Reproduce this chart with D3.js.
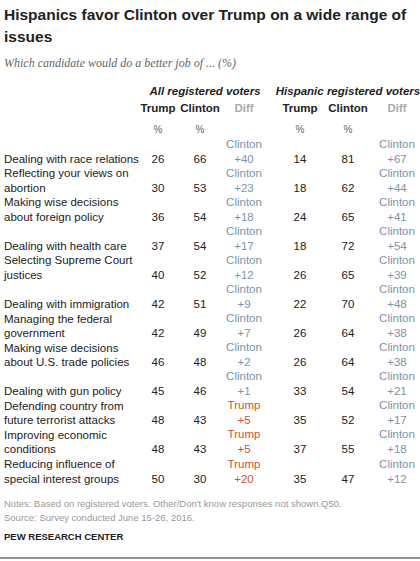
<!DOCTYPE html>
<html><head><meta charset="utf-8">
<script src="https://cdn.jsdelivr.net/npm/d3@7"></script>
<style>body{margin:0;background:#fff}svg{font-family:"Liberation Sans",Arial,sans-serif}</style>
</head><body><svg id="chart" width="420" height="561"></svg>
<script>
var issues=[["Dealing with race relations"],["Reflecting your views on","abortion"],["Making wise decisions","about foreign policy"],["Dealing with health care"],["Selecting Supreme Court","justices"],["Dealing with immigration"],["Managing the federal","government"],["Making wise decisions","about U.S. trade policies"],["Dealing with gun policy"],["Defending country from","future terrorist attacks"],["Improving economic","conditions"],["Reducing influence of","special interest groups"]];
var allTrump=[26,30,36,37,40,42,42,46,45,48,48,50];
var allClinton=[66,53,54,54,52,51,49,48,46,43,43,30];
var hispTrump=[14,18,24,18,26,22,26,26,33,35,37,35];
var hispClinton=[81,62,65,72,65,70,64,64,54,52,55,47];

var svg=d3.select("#chart");
var y=d3.scaleBand().domain(d3.range(issues.length)).range([134.5,483.5]);
var cols={aT:158,aC:200,aD:244,hT:300,hC:348,hD:397};
var blue="#7b93ad",red="#d4532a";

function txt(x,yy,s,o){var t=svg.append("text").attr("x",x).attr("y",yy).text(s);
 o=o||{};t.attr("font-size",o.size||11.5).attr("fill",o.fill||"#222").attr("text-anchor",o.anchor||"start")
 .attr("font-weight",o.weight||"normal").attr("font-style",o.style||"normal");return t;}

txt(4,20,"Hispanics favor Clinton over Trump on a wide range of",{size:15.5,weight:"bold"});
txt(4,42,"issues",{size:15.5,weight:"bold"});
txt(4,67,"Which candidate would do a better job of ... (%)",{size:12,style:"italic",fill:"#666",}).attr("font-family","Liberation Serif,serif");

txt(205,95,"All registered voters",{size:11.5,weight:"bold",style:"italic",anchor:"middle"});
txt(348,95,"Hispanic registered voters",{size:11.5,weight:"bold",style:"italic",anchor:"middle"});
[["aT","Trump"],["aC","Clinton"],["aD","Diff"],["hT","Trump"],["hC","Clinton"],["hD","Diff"]].forEach(function(c){
 txt(cols[c[0]],112,c[1],{weight:"bold",anchor:"middle",fill:c[1]=="Diff"?"#aaa":"#222"});
 if(c[1]!="Diff") txt(cols[c[0]],133,"%",{size:10,anchor:"middle",fill:"#666"});
});

function diff(col,tr,cl,base){
 var d=cl-tr,who=d>=0?"Clinton":"Trump",f=d>=0?blue:red;
 txt(cols[col],base-15,who,{anchor:"middle",fill:f});
 txt(cols[col],base,"+"+Math.abs(d),{anchor:"middle",fill:f});
}

issues.forEach(function(lines,i){
 var base=y(i)+y.bandwidth()-1;
 lines.forEach(function(l,j){txt(4,base-(lines.length-1-j)*14.5,l);});
 txt(cols.aT,base,allTrump[i],{anchor:"middle"});
 txt(cols.aC,base,allClinton[i],{anchor:"middle"});
 diff("aD",allTrump[i],allClinton[i],base);
 txt(cols.hT,base,hispTrump[i],{anchor:"middle"});
 txt(cols.hC,base,hispClinton[i],{anchor:"middle"});
 diff("hD",hispTrump[i],hispClinton[i],base);
});

txt(4,507,"Notes: Based on registered voters. Other/Don't know responses not shown.Q50.",{size:9.5,fill:"#999"});
txt(4,521,"Source: Survey conducted June 15-26, 2016.",{size:9.5,fill:"#999"});
txt(4,540,"PEW RESEARCH CENTER",{size:9.5,weight:"bold"});
svg.append("line").attr("x1",0).attr("x2",420).attr("y1",558).attr("y2",558).attr("stroke","#222");
</script></body></html>
